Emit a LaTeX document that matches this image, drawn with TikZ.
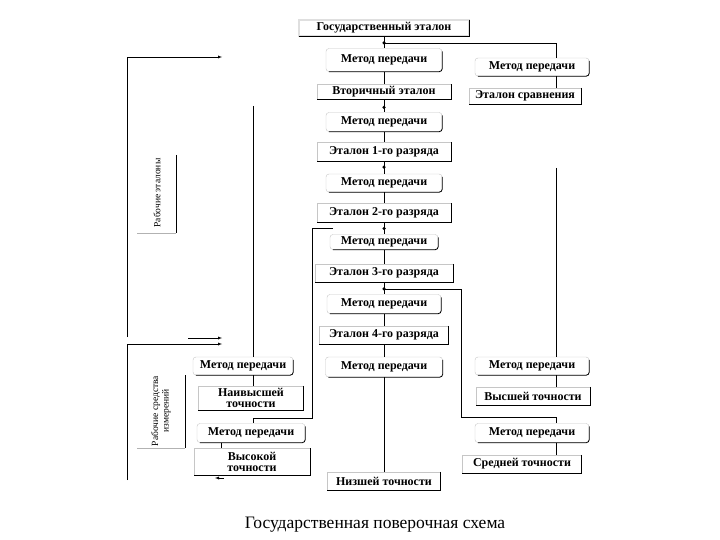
\documentclass[tikz,border=0pt]{standalone}
\usepackage{fontspec}
\setmainfont{Liberation Serif}
\usetikzlibrary{positioning}

\begin{document}
\begin{tikzpicture}[x=1pt, y=-1pt, >=latex,
			metod/.style={draw=gray!45, fill=white, rounded corners=3pt, minimum width=116pt, minimum height=19pt, inner sep=1pt, font=\bfseries\fontsize{12}{11}\selectfont},
			etalon/.style={draw=gray!45, fill=white, minimum width=134pt, minimum height=17pt, inner sep=1pt, align=center, font=\bfseries\fontsize{12}{11}\selectfont},
			dot/.style={circle, fill=black, inner sep=0pt, minimum size=3.5pt},
			side/.style={rotate=90, align=center, font=\fontsize{9.5}{10.5}\selectfont},
		]
		\useasboundingbox (0,0) rectangle (720,540);

		% main column
		\node[etalon, draw=black, double=gray!25, double distance=1.2pt, minimum width=170pt, minimum height=16pt] (gos) at (384,28) {Государственный эталон};
		\node[metod, minimum height=23pt] (m1) at (384,60) {Метод передачи};
		\node[etalon, minimum height=15pt] (vt) at (384,92) {Вторичный эталон};
		\node[metod, minimum height=19pt] (m2) at (384,122) {Метод передачи};
		\node[etalon, minimum height=19pt] (r1) at (384,152) {Эталон 1-го разряда};
		\node[metod, minimum height=18pt] (m3) at (384,183) {Метод передачи};
		\node[etalon, minimum height=19pt] (r2) at (384,213) {Эталон 2-го разряда};
		\node[metod, minimum width=108pt, minimum height=15pt] (m4) at (384,242) {Метод передачи};
		\node[etalon, minimum width=138pt, minimum height=18pt] (r3) at (384,273) {Эталон 3-го разряда};
		\node[metod, minimum width=114pt, minimum height=19pt] (m5) at (384,304) {Метод передачи};
		\node[etalon, minimum width=129pt, minimum height=18pt] (r4) at (384,335) {Эталон 4-го разряда};
		\node[metod, minimum width=117pt, minimum height=20pt] (m6) at (384,367) {Метод передачи};
		\node[etalon, minimum width=113pt, minimum height=18pt] (low) at (384,481) {Низшей точности};

		% right column
		\node[metod, minimum width=114pt, minimum height=18pt] (ms) at (532,67) {Метод передачи};
		\node[etalon, minimum width=112pt, minimum height=16pt] (sr) at (525,96) {Эталон сравнения};
		\node[metod, minimum width=114pt, minimum height=18pt] (mr1) at (532,366) {Метод передачи};
		\node[etalon, minimum width=114pt, minimum height=18pt] (high) at (533,396) {Высшей точности};
		\node[metod, minimum width=114pt] (mr2) at (532,433) {Метод передачи};
		\node[etalon, minimum width=119pt, minimum height=18pt] (mid) at (522,464) {Средней точности};

		% left column
		\node[metod, minimum width=100pt, minimum height=18pt] (ml1) at (243,366) {Метод передачи};
		\node[etalon, minimum width=105pt, minimum height=24pt] (top) at (251,398) {Наивысшей\\точности};
		\node[metod, minimum width=108pt] (ml2) at (251,433) {Метод передачи};
		\node[etalon, minimum width=116pt, minimum height=27pt] (hi) at (252,462) {Высокой\\точности};

		% dark right and bottom edges
		\foreach \n in {m1,m2,m3,m4,m5,m6,ms,mr1,mr2,ml1,ml2}
			\draw[thick, rounded corners=3pt] ([yshift=-3pt]\n.north east) -- (\n.south east) -- ([xshift=3pt]\n.south west);
		\foreach \n in {gos,vt,sr,r1,r2,r3,r4,low,high,mid,top,hi}
			\draw[thick] (\n.north east) -- (\n.south east) -- (\n.south west);

		% side labels
		\node[side] (rab) at (157,193) {Рабочие эталоны};
		\draw[gray!60] (137,233) -- (176,233);
		\draw[semithick] (176,155) -- (176,233);
		\node[side] (sred) at (161,411) {Рабочие средства\\измерений};
		\draw[gray!60] (137,448) -- (185,448);
		\draw[semithick] (185,375) -- (185,448);

		% free ends
		\coordinate (rt) at (556,168);
		\coordinate (lt) at (253,106);
		\coordinate (b3) at (333,228);
		\coordinate (k3) at (312,418);
		\coordinate (k4) at (461,417);
		\coordinate (a1) at (127,337);
		\coordinate (t1) at (222,57);
		\coordinate (a2) at (127,480);
		\coordinate (t2) at (222,344);
		\coordinate (a3) at (188,338);
		\coordinate (t3) at (222,338);
		\coordinate (a4) at (224,478);
		\coordinate (t4) at (215,478);

		% main line
		\draw (gos) -- (m1) node[pos=.55, dot] (j0) {};
		\draw (m1) -- (vt);
		\draw (vt) -- (m2) node[pos=.6, dot] {};
		\draw (m2) -- (r1);
		\draw (r1) -- (m3) node[pos=.45, dot] {};
		\draw (m3) -- (r2);
		\draw (r2) -- (m4) node[pos=.5, dot] {};
		\draw (m4) -- (r3);
		\draw (r3) -- (m5) node[pos=.55, dot] (j4) {};
		\draw (m5) -- (r4);
		\draw (r4) -- (m6);
		\draw (m6) -- (low);

		% right branch
		\draw (j0.center) -| (ms.north -| rt);
		\draw (ms.south -| rt) -- (sr.north -| rt);
		\draw (rt) -- (mr1.north -| rt);
		\draw (mr1.south -| rt) -- (high.north -| rt);
		\draw (j4.center) -| (k4) -| (mr2.north -| rt);
		\draw (mr2.south -| rt) -- (mid.north -| rt);

		% left branch
		\draw (lt) -- (ml1.north -| lt);
		\draw (ml1.south -| lt) -- (top.north -| lt);
		\draw (b3) -| (k3) -| (ml2.north -| lt);
		\draw ([xshift=-30pt]ml2.south) -- ([xshift=-30pt]ml2.south |- hi.north);

		% arrows
		\draw[->] (a1) |- (t1);
		\draw[->] (a2) |- (t2);
		\draw[->] (a3) -- (t3);
		\draw[->] (a4) -- (t4);

		\node[font=\fontsize{17.5}{19}\selectfont] (cap) at (375,525) {Государственная поверочная схема};
		\end{tikzpicture}
\end{document}
